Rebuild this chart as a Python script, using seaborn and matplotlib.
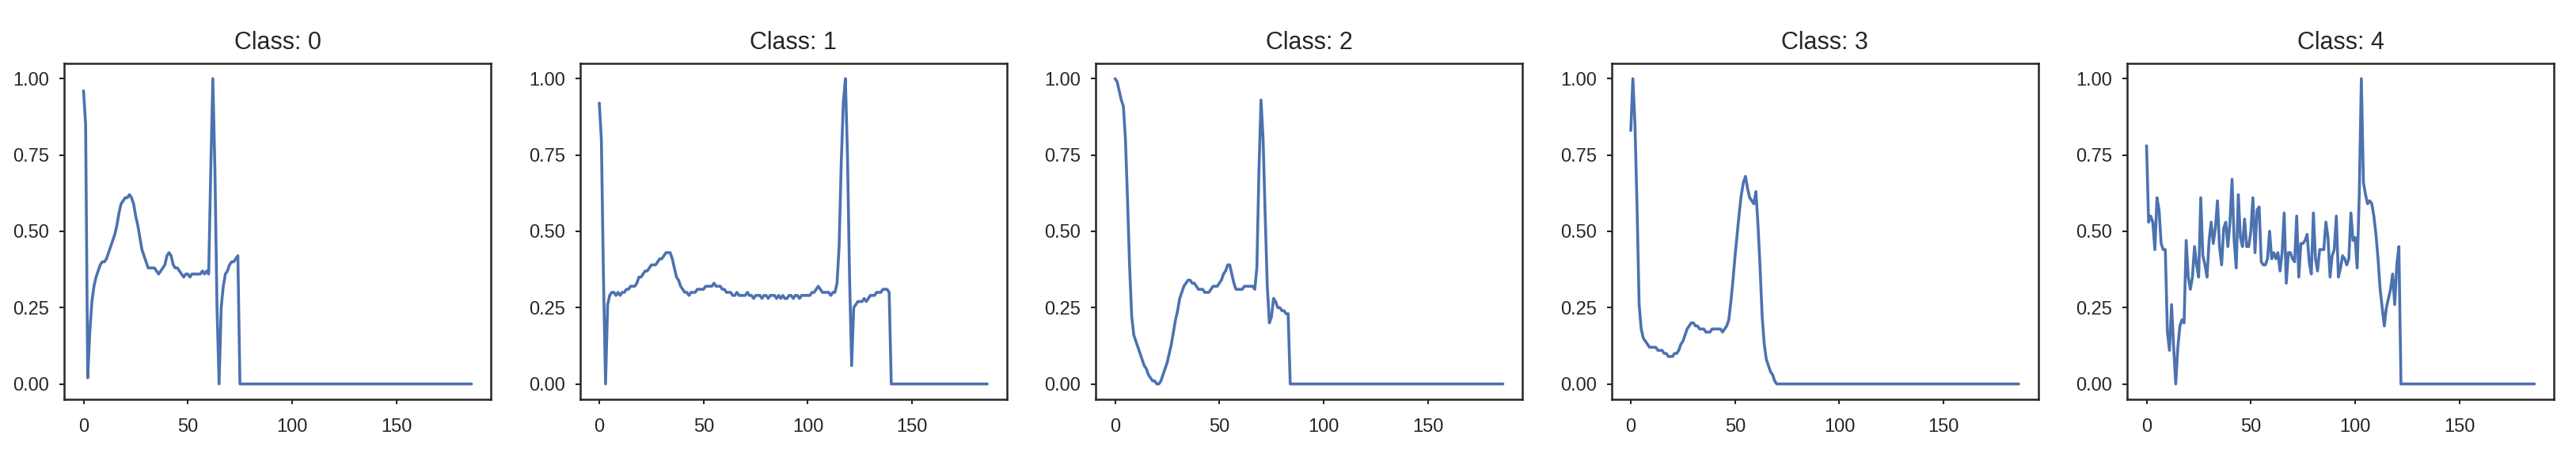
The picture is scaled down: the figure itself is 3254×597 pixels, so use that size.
import numpy as np
import pandas as pd
import seaborn as sns
import matplotlib.pyplot as plt
from matplotlib import font_manager

# One heartbeat per class, 187 samples each; the rest of each beat is flat zero
N_SAMPLES = 187
class_labels = [0, 1, 2, 3, 4]

class0 = [0.96, 0.85, 0.02, 0.17, 0.27, 0.32, 0.35, 0.37, 0.39, 0.40,
          0.40, 0.41, 0.43, 0.45, 0.47, 0.49, 0.52, 0.56, 0.59, 0.60,
          0.61, 0.61, 0.62, 0.61, 0.59, 0.55, 0.52, 0.48, 0.44, 0.42,
          0.40, 0.38, 0.38, 0.38, 0.38, 0.37, 0.36, 0.37, 0.38, 0.39,
          0.42, 0.43, 0.42, 0.39, 0.38, 0.38, 0.37, 0.36, 0.35, 0.36,
          0.36, 0.35, 0.36, 0.36, 0.36, 0.36, 0.36, 0.37, 0.36, 0.37,
          0.36, 0.70, 1.00, 0.70, 0.25, 0.00, 0.25, 0.32, 0.36, 0.37,
          0.39, 0.40, 0.40, 0.41, 0.42]

class1 = [0.92, 0.80, 0.35, 0.00, 0.26, 0.29, 0.30, 0.30, 0.29, 0.30,
          0.29, 0.30, 0.30, 0.31, 0.31, 0.32, 0.32, 0.32, 0.33, 0.35,
          0.35, 0.36, 0.37, 0.37, 0.38, 0.39, 0.39, 0.39, 0.40, 0.41,
          0.41, 0.42, 0.43, 0.43, 0.43, 0.41, 0.38, 0.35, 0.34, 0.32,
          0.31, 0.30, 0.30, 0.29, 0.30, 0.30, 0.30, 0.31, 0.31, 0.31,
          0.31, 0.32, 0.32, 0.32, 0.32, 0.33, 0.32, 0.32, 0.32, 0.31,
          0.31, 0.30, 0.30, 0.30, 0.29, 0.29, 0.30, 0.29, 0.29, 0.29,
          0.29, 0.30, 0.29, 0.29, 0.28, 0.29, 0.29, 0.29, 0.28, 0.29,
          0.29, 0.28, 0.29, 0.29, 0.29, 0.28, 0.29, 0.28, 0.29, 0.28,
          0.28, 0.29, 0.29, 0.28, 0.29, 0.29, 0.28, 0.29, 0.29, 0.29,
          0.29, 0.29, 0.30, 0.30, 0.31, 0.32, 0.31, 0.30, 0.30, 0.30,
          0.30, 0.29, 0.30, 0.30, 0.33, 0.45, 0.72, 0.92, 1.00, 0.75,
          0.35, 0.06, 0.25, 0.26, 0.27, 0.27, 0.27, 0.28, 0.27, 0.28,
          0.29, 0.29, 0.29, 0.30, 0.30, 0.30, 0.31, 0.31, 0.31, 0.30]

class2 = [1.00, 0.99, 0.96, 0.93, 0.91, 0.80, 0.60, 0.38, 0.22, 0.16,
          0.14, 0.12, 0.10, 0.08, 0.06, 0.05, 0.03, 0.02, 0.01, 0.01,
          0.00, 0.00, 0.01, 0.03, 0.05, 0.07, 0.10, 0.13, 0.17, 0.21,
          0.24, 0.28, 0.30, 0.32, 0.33, 0.34, 0.34, 0.33, 0.33, 0.32,
          0.31, 0.31, 0.31, 0.30, 0.30, 0.30, 0.31, 0.32, 0.32, 0.32,
          0.33, 0.34, 0.36, 0.37, 0.39, 0.39, 0.36, 0.33, 0.31, 0.31,
          0.31, 0.31, 0.32, 0.32, 0.32, 0.32, 0.32, 0.31, 0.38, 0.70,
          0.93, 0.80, 0.55, 0.32, 0.20, 0.22, 0.28, 0.27, 0.25, 0.25,
          0.24, 0.24, 0.23, 0.23]

class3 = [0.83, 1.00, 0.85, 0.58, 0.26, 0.18, 0.15, 0.14, 0.13, 0.12,
          0.12, 0.12, 0.12, 0.11, 0.11, 0.11, 0.10, 0.10, 0.09, 0.09,
          0.09, 0.10, 0.10, 0.11, 0.13, 0.14, 0.16, 0.18, 0.19, 0.20,
          0.20, 0.19, 0.19, 0.18, 0.18, 0.18, 0.17, 0.17, 0.17, 0.18,
          0.18, 0.18, 0.18, 0.18, 0.17, 0.18, 0.19, 0.21, 0.27, 0.34,
          0.42, 0.49, 0.56, 0.62, 0.66, 0.68, 0.64, 0.61, 0.60, 0.59,
          0.63, 0.52, 0.38, 0.22, 0.13, 0.08, 0.06, 0.04, 0.03, 0.01]

class4 = [0.78, 0.53, 0.55, 0.53, 0.44, 0.61, 0.57, 0.46, 0.44, 0.44,
          0.17, 0.11, 0.26, 0.12, 0.00, 0.12, 0.19, 0.21, 0.20, 0.47,
          0.35, 0.31, 0.35, 0.45, 0.39, 0.35, 0.61, 0.42, 0.39, 0.35,
          0.47, 0.53, 0.46, 0.51, 0.60, 0.45, 0.39, 0.51, 0.53, 0.45,
          0.53, 0.67, 0.47, 0.38, 0.62, 0.48, 0.45, 0.54, 0.45, 0.45,
          0.50, 0.61, 0.43, 0.57, 0.58, 0.40, 0.39, 0.39, 0.41, 0.50,
          0.41, 0.43, 0.41, 0.43, 0.37, 0.43, 0.56, 0.33, 0.43, 0.43,
          0.41, 0.40, 0.55, 0.35, 0.46, 0.46, 0.47, 0.49, 0.40, 0.36,
          0.56, 0.41, 0.37, 0.44, 0.44, 0.44, 0.53, 0.48, 0.35, 0.42,
          0.44, 0.55, 0.35, 0.38, 0.42, 0.41, 0.39, 0.41, 0.56, 0.47,
          0.48, 0.38, 0.62, 1.00, 0.66, 0.62, 0.59, 0.60, 0.59, 0.55,
          0.49, 0.41, 0.31, 0.25, 0.19, 0.25, 0.28, 0.31, 0.36, 0.26,
          0.39, 0.45]

beats = [class0, class1, class2, class3, class4]

sns.set_style("ticks")
# the reference text is tall and narrow, use a condensed face if there is one
installed = {f.name for f in font_manager.fontManager.ttflist}
if "Liberation Sans Narrow" in installed:
    plt.rcParams["font.family"] = ["Liberation Sans Narrow", "DejaVu Sans"]
    tick_size, title_size = 20, 25
else:
    plt.rcParams["font.family"] = ["Liberation Sans", "DejaVu Sans"]
    tick_size, title_size = 17, 22

# long-form table: pad every beat with its zero tail
rows = []
for label, beat in zip(class_labels, beats):
    padded = beat + [0.0] * (N_SAMPLES - len(beat))
    for i, v in enumerate(padded):
        rows.append({"class": label, "sample": i, "value": v})
df = pd.DataFrame(rows)

fig, axes = plt.subplots(1, 5, figsize=(32.54, 5.97), dpi=100)
fig.subplots_adjust(left=0.0249, right=0.9914, top=0.866, bottom=0.156, wspace=0.2087)

for ax, label in zip(axes, class_labels):
    sns.lineplot(data=df[df["class"] == label], x="sample", y="value", ax=ax,
                 color="#4C72B0", linewidth=2.6, errorbar=None)
    ax.set_title(f"Class: {label}", fontsize=title_size, pad=13)
    ax.set_xlabel("")
    ax.set_ylabel("")
    ax.set_xticks([0, 50, 100, 150])
    ax.set_yticks([0.0, 0.25, 0.5, 0.75, 1.0])
    ax.yaxis.set_major_formatter("{x:.2f}")
    ax.tick_params(axis="x", labelsize=tick_size, pad=13, length=4.5, width=1.5)
    ax.tick_params(axis="y", labelsize=tick_size, pad=9, length=4.5, width=1.5)
    for spine in ax.spines.values():
        spine.set_linewidth(1.8)

fig.savefig("out.png", dpi=100)
plt.close()
